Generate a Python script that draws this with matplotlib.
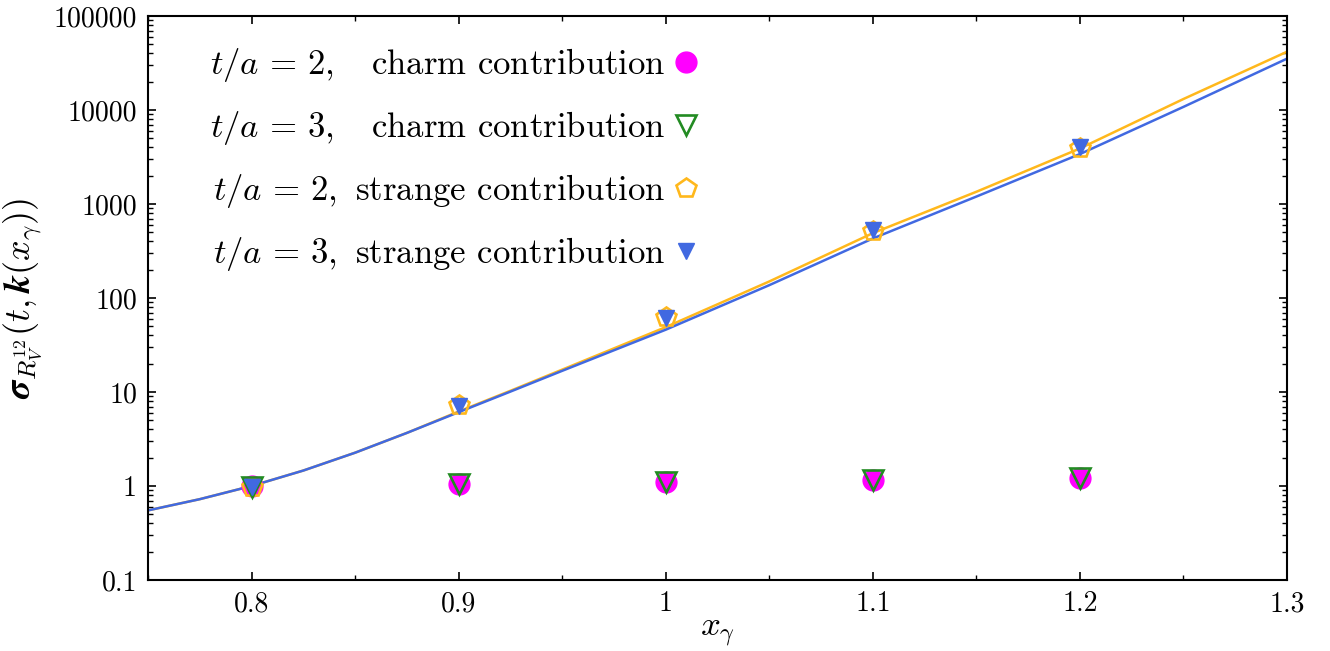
import matplotlib
matplotlib.use("Agg")
import matplotlib.pyplot as plt
from matplotlib.ticker import FuncFormatter, MultipleLocator, LogLocator, NullFormatter

plt.rcParams['font.family'] = 'serif'
plt.rcParams['font.serif'] = ['cmr10']
plt.rcParams['mathtext.fontset'] = 'cm'
plt.rcParams['axes.unicode_minus'] = False
plt.rcParams['axes.formatter.use_mathtext'] = True

# curves
x_curve = [0.75, 0.775, 0.8, 0.825, 0.85, 0.875, 0.9, 0.925, 0.95, 1.0, 1.05, 1.1, 1.15, 1.2, 1.25, 1.3]
y_curve_t3 = [0.55, 0.724, 1.0, 1.46, 2.26, 3.67, 6.1, 10.1, 16.8, 46.0, 137.0, 430.0, 1200.0, 3400.0, 10800.0, 35200.0]
y_curve_t2 = [0.55, 0.724, 1.0, 1.46, 2.26, 3.67, 6.2, 10.3, 17.3, 49.0, 150.0, 490.0, 1350.0, 3900.0, 13100.0, 41700.0]

# data points
x_pts = [0.8, 0.9, 1.0, 1.1, 1.2]
charm_t2 = [1.0, 1.05, 1.11, 1.16, 1.22]
charm_t3 = [0.98, 1.04, 1.10, 1.15, 1.21]
strange_t2 = [0.97, 7.3, 63.0, 520.0, 3970.0]
strange_t3 = [0.98, 7.1, 61.0, 530.0, 4080.0]

magenta = '#ff00ff'
green = '#228b22'
orange = '#ffb81c'
blue = '#4169e1'

fig = plt.figure(figsize=(13.3, 6.51), dpi=100)
ax = fig.add_axes([0.1113, 0.1091, 0.8564, 0.8663])

ax.plot(x_curve, y_curve_t2, '-', color=orange, lw=1.8, zorder=2)
ax.plot(x_curve, y_curve_t3, '-', color=blue, lw=1.8, zorder=2)

ax.plot(x_pts, charm_t2, 'o', color=magenta, ms=15, ls='none', zorder=3,
        label=r'$t/a\,=\,2,\quad$charm contribution')
ax.plot(x_pts, charm_t3, 'v', mfc='none', mec=green, mew=1.9, ms=14, ls='none', zorder=4,
        label=r'$t/a\,=\,3,\quad$charm contribution')
ax.plot(x_pts, strange_t2, 'p', mfc='none', mec=orange, mew=1.9, ms=15, ls='none', zorder=3,
        label=r'$t/a\,=\,2,$ strange contribution')
ax.plot(x_pts, strange_t3, 'v', color=blue, ms=12, ls='none', zorder=4,
        label=r'$t/a\,=\,3,$ strange contribution')

ax.set_yscale('log')
ax.set_xlim(0.75, 1.3)
ax.set_ylim(0.1, 100000)

ax.xaxis.set_major_locator(MultipleLocator(0.1))
ax.xaxis.set_minor_locator(MultipleLocator(0.05))
ax.xaxis.set_major_formatter(FuncFormatter(lambda v, p: '%g' % round(v, 3)))
ax.yaxis.set_major_locator(LogLocator(base=10, numticks=20))
ax.yaxis.set_minor_locator(LogLocator(base=10, subs=range(2, 10), numticks=20))
ax.yaxis.set_major_formatter(FuncFormatter(lambda v, p: '%g' % v))
ax.yaxis.set_minor_formatter(NullFormatter())

ax.tick_params(which='both', direction='in', top=True, right=True, labelsize=20, pad=8)
ax.tick_params(which='major', length=6, width=1.2)
ax.tick_params(which='minor', length=3.5, width=1.0)
for s in ax.spines.values():
    s.set_linewidth(1.5)

ax.set_xlabel(r'$x_\gamma$', fontsize=25, labelpad=0)
ax.set_ylabel(r'$\mathbfit{\sigma}_{R_V^{12}}(t,\mathbfit{k}(x_\gamma))$', fontsize=26, labelpad=6)

ax.legend(loc='upper left', bbox_to_anchor=(0.033, 0.99), frameon=False,
          markerfirst=False, fontsize=25, handletextpad=0.15, labelspacing=0.72,
          handlelength=0.9, borderpad=0.2)

fig.savefig('out.png', dpi=100)
